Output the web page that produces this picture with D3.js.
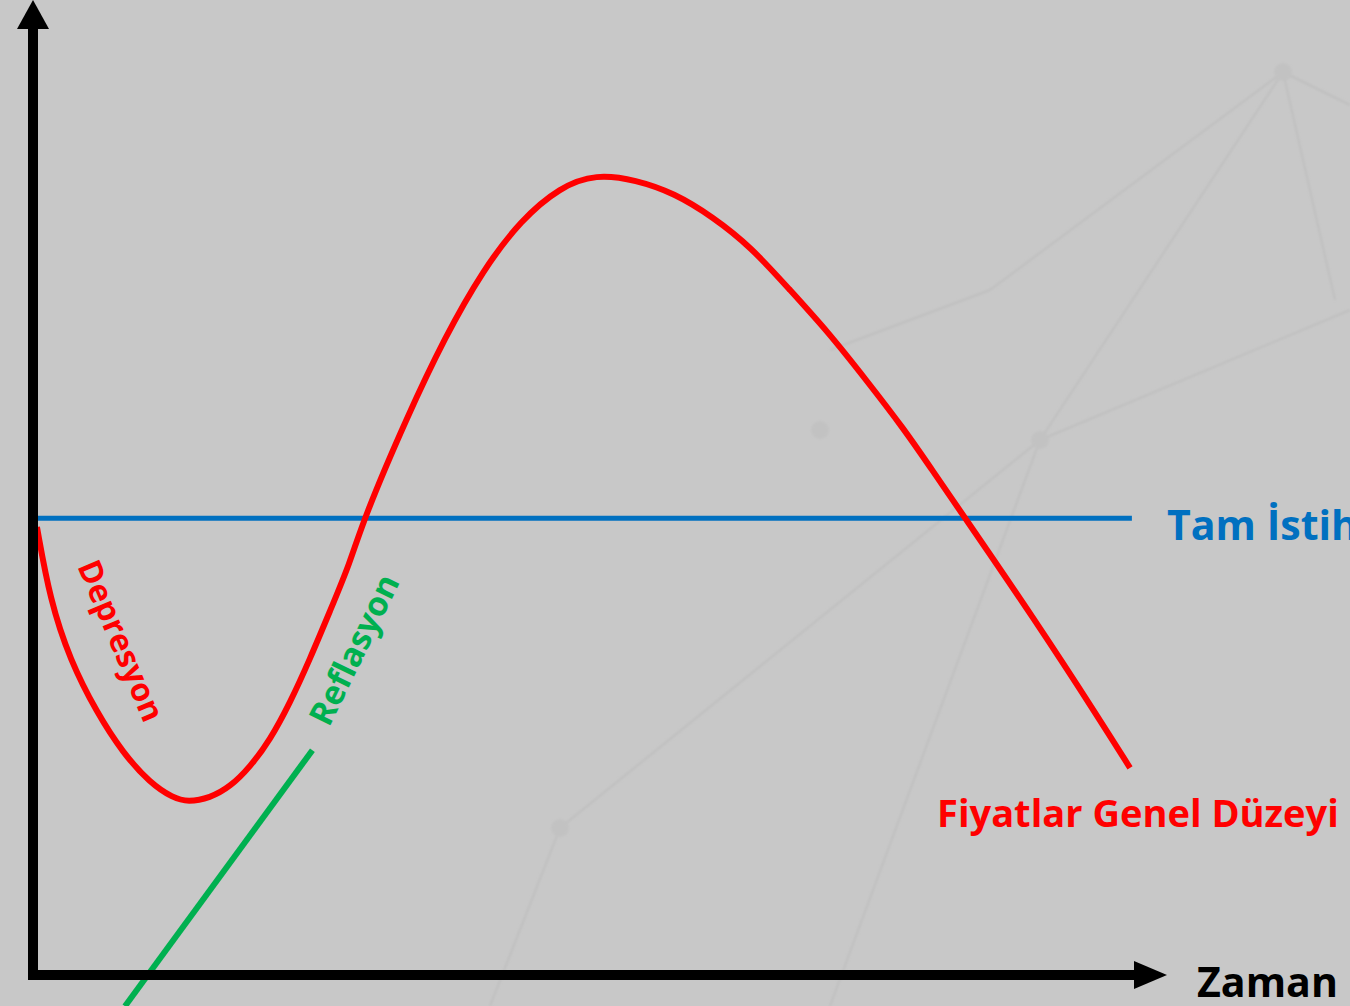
<!DOCTYPE html>
<html><head><meta charset="utf-8">
<script src="https://cdn.jsdelivr.net/npm/d3@7"></script>
<style>html,body{margin:0;padding:0;background:#c8c8c8;overflow:hidden}</style>
</head><body>
<script>
// Data (abstract units: time 0..100, price level 0..100)
const priceTime  = [0.36,1.55,3.36,5.82,8.18,10.64,12.73,14.09,16.09,17.91,19.73,21.55,23.36,25.18,27,28.82,30.09,34,37.45,40.91,44.36,47.91,51.18,54.82,58.27,61.82,65.27,68.73,72.27,75.73,79.18,81.55,84.73,90.91,97,99.73];
const priceLevel = [56,46.88,39.38,32.75,27.75,24,22.13,21.63,22.13,23.5,26,29.38,34,39.5,45.5,51.5,57.13,69.75,79.75,88.13,94.38,98.5,100.13,99.38,97.75,94.75,91,85.75,80.4,74.4,68.25,63.5,57.13,44.75,31.88,25.88];
const fullEmpTime = [0.36, 99.9];
const fullEmpLevel = [57.1, 57.1];
const reflTime = [25.4, 8.36];
const reflLevel = [28.1, -3.9];
const labels = {xAxis:"Zaman", full:"Tam İstihdam", price:"Fiyatlar Genel Düzeyi", dep:"Depresyon", ref:"Reflasyon"};

const W=1350,H=1006;
const x=d3.scaleLinear().domain([0,100]).range([33,1133]);
const y=d3.scaleLinear().domain([0,100]).range([975,175]);

const svg=d3.select("body").append("svg").attr("width",W).attr("height",H);
svg.append("rect").attr("width",W).attr("height",H).attr("fill","#c8c8c8");

// faint decorative network
const defs=svg.append("defs");
defs.append("filter").attr("id","bl").append("feGaussianBlur").attr("stdDeviation",1.2);
const deco=svg.append("g").attr("filter","url(#bl)").attr("stroke","#bfbfbf").attr("stroke-width",2).attr("fill","none");
const segs=[[1283,72,1350,105],[1283,72,1040,440],[1283,72,990,290],[1283,72,1335,300],[1040,440,1350,310],[1040,440,830,1006],[1040,440,560,828],[560,828,490,1006],[990,290,830,350]];
segs.forEach(s=>deco.append("line").attr("x1",s[0]).attr("y1",s[1]).attr("x2",s[2]).attr("y2",s[3]));
[[1283,72],[1040,440],[560,828],[820,430]].forEach(p=>deco.append("circle").attr("cx",p[0]).attr("cy",p[1]).attr("r",9).attr("fill","#c2c2c2").attr("stroke","none"));

const line=d3.line().x(d=>x(d[0])).y(d=>y(d[1]));
svg.append("path").datum(d3.zip(fullEmpTime,fullEmpLevel)).attr("d",line)
  .attr("stroke","#0070c0").attr("stroke-width",5).attr("fill","none");
svg.append("path").datum(d3.zip(reflTime,reflLevel)).attr("d",line)
  .attr("stroke","#00b050").attr("stroke-width",6).attr("fill","none");
svg.append("path").datum(d3.zip(priceTime,priceLevel))
  .attr("d",d3.line().x(d=>x(d[0])).y(d=>y(d[1])).curve(d3.curveBasis))
  .attr("stroke","#ff0000").attr("stroke-width",6).attr("fill","none");

// axes
const ax=svg.append("g");
ax.append("line").attr("x1",x(0)).attr("y1",y(0)).attr("x2",x(0)).attr("y2",25).attr("stroke","#000").attr("stroke-width",10);
ax.append("line").attr("x1",x(0)-5).attr("y1",y(0)).attr("x2",1140).attr("y2",y(0)).attr("stroke","#000").attr("stroke-width",10);
ax.append("path").attr("d",`M${x(0)},0 L${x(0)+16},29 L${x(0)-16},29 Z`).attr("fill","#000");
ax.append("path").attr("d",`M1167,${y(0)} L1134,${y(0)-14} L1134,${y(0)+14} Z`).attr("fill","#000");

const font="'Open Sans', Lato, sans-serif";
function fit(sel, text, target, base){
  sel.attr("font-size",base).text(text);
  const w=sel.node().getComputedTextLength();
  sel.attr("font-size",base*target/w);
}
function lab(x0,y0,rot,color){
  return svg.append("text").attr("transform",`translate(${x0},${y0}) rotate(${rot})`)
   .attr("font-family",font).attr("font-weight",700).attr("fill",color);
}
fit(lab(1197,997,0,"#000"),labels.xAxis,141,40);
const tmp=lab(0,-100,0,"#000"); fit(tmp,"Tam",89,40); const fs=tmp.attr("font-size"); tmp.remove();
lab(1167,540,0,"#0070c0").attr("font-size",fs).text(labels.full);
fit(lab(937,827,0,"#ff0000"),labels.price,402,34);
fit(lab(77,566,67,"#ff0000"),labels.dep,172,28);
fit(lab(329,728,-64,"#00b050"),labels.ref,163,28);
</script>
</body></html>
